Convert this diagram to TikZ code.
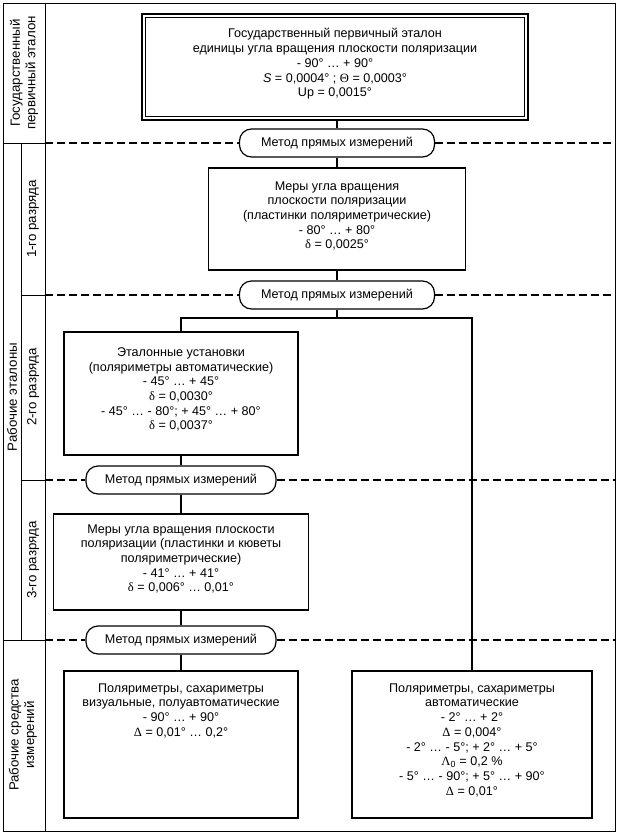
\documentclass[tikz,border=0pt]{standalone}
\usepackage{fontspec}
\setmainfont{Liberation Sans}
\newfontfamily\symf{Liberation Serif}
\begin{document}
\begin{tikzpicture}[x=1pt,y=-1pt,
  frame/.style={line width=1pt},
  box/.style={draw, line width=1.2pt, inner sep=0pt},
  pill/.style={draw, line width=1.2pt, rounded corners=12pt, minimum height=28pt, fill=white, inner sep=0pt, font=\fontsize{12.6}{14.7}\selectfont},
  txt/.style={align=center, font=\fontsize{12.6}{14.7}\selectfont, inner sep=0pt},
  side/.style={align=center, font=\fontsize{13.3}{15.5}\selectfont, inner sep=0pt, rotate=90},
  conn/.style={line width=1.2pt},
  sep/.style={line width=1.3pt, dash pattern=on 8pt off 4pt}]
\useasboundingbox (0,0) rectangle (619,835);
% frame
\draw[frame] (3,3) rectangle (615,831);
\draw[frame] (45,3) -- (45,831);
\draw[frame] (21,143) -- (21,640);
\draw[frame] (3,143) -- (45,143);
\draw[frame] (21,295) -- (45,295);
\draw[frame] (21,480) -- (45,480);
\draw[frame] (3,640) -- (45,640);
% side labels
\node[side] (l1) at (24,73) {Государственный\\первичный эталон};
\node[side] (l2) at (12,397) {Рабочие эталоны};
\node[side] (l3) at (33,219) {1-го разряда};
\node[side] (l4) at (33,387) {2-го разряда};
\node[side] (l5) at (33,560) {3-го разряда};
\node[side] (l6) at (23,735) {Рабочие средства\\измерений};
% pills
\node[pill, minimum width=195pt] (p1) at (337,143) {Метод прямых измерений};
\node[pill, minimum width=195pt] (p2) at (337,295) {Метод прямых измерений};
\node[pill, minimum width=190pt] (p3) at (181,480) {Метод прямых измерений};
\node[pill, minimum width=190pt] (p4) at (181,640) {Метод прямых измерений};
% separators
\coordinate (s1l) at (45,143); \coordinate (s1r) at (615,143);
\coordinate (s2l) at (45,295); \coordinate (s2r) at (615,295);
\coordinate (s3l) at (45,480); \coordinate (s3r) at (615,480);
\coordinate (s4l) at (45,640); \coordinate (s4r) at (615,640);
\draw[sep] (s1l) -- (p1.west); \draw[sep] (p1.east) -- (s1r);
\draw[sep] (s2l) -- (p2.west); \draw[sep] (p2.east) -- (s2r);
\draw[sep] (s3l) -- (p3.west); \draw[sep] (p3.east) -- (s3r);
\draw[sep] (s4l) -- (p4.west); \draw[sep] (p4.east) -- (s4r);
% boxes
\node[box, line width=1.6pt, minimum width=386pt, minimum height=106pt] (b1) at (335,67) {};
\draw[line width=0.8pt] ([shift={(4pt,-4pt)}]b1.north west) rectangle ([shift={(-4pt,4pt)}]b1.south east);
\node[txt] (b1t) at (335,64) {Государственный первичный эталон\\единицы угла вращения плоскости поляризации\\- 90° … + 90°\\\textit{S} = 0,0004° ; {\symf Θ} = 0,0003°\\Up = 0,0015°};
\node[box, minimum width=257pt, minimum height=102pt] (b2) at (337,219) {};
\node[txt] (b2t) at (337,216) {Меры угла вращения\\плоскости поляризации\\(пластинки поляриметрические)\\- 80° … + 80°\\{\symf δ} = 0,0025°};
\node[box, minimum width=234pt, minimum height=123pt] (b3) at (181,393.5) {};
\node[txt] (b3t) at (181,389.5) {Эталонные установки\\(поляриметры автоматические)\\- 45° … + 45°\\{\symf δ} = 0,0030°\\- 45° … - 80°; + 45° … + 80°\\{\symf δ} = 0,0037°};
\node[box, minimum width=255pt, minimum height=96pt] (b4) at (181,562) {};
\node[txt] (b4t) at (181,559) {Меры угла вращения плоскости\\поляризации (пластинки и кюветы\\поляриметрические)\\- 41° … + 41°\\{\symf δ} = 0,006° … 0,01°};
\node[box, minimum width=234pt, minimum height=147pt] (b5) at (181,744.5) {};
\node[txt, anchor=north] (b5t) at ([yshift=-13pt]b5.north) {Поляриметры, сахариметры\\визуальные, полуавтоматические\\- 90° … + 90°\\{\symf Δ} = 0,01° … 0,2°};
\node[box, minimum width=240pt, minimum height=147pt] (b6) at (472,744.5) {};
\node[txt, anchor=north] (b6t) at ([yshift=-13pt]b6.north) {Поляриметры, сахариметры\\автоматические\\- 2° … + 2°\\{\symf Δ} = 0,004°\\- 2° … - 5°; + 2° … + 5°\\{\symf Λ}\textsubscript{0} = 0,2 \%\\- 5° … - 90°; + 5° … + 90°\\{\symf Δ} = 0,01°};
% connectors
\coordinate (j) at (337,318);
\draw[conn] (b1.south -| p1.north) -- (p1.north);
\draw[conn] (p1.south) -- (b2.north);
\draw[conn] (b2.south) -- (p2.north);
\draw[conn] (p2.south) -- (j);
\draw[conn] (b3.north) |- (j);
\draw[conn] (b6.north) |- (j);
\draw[conn] (b3.south) -- (p3.north);
\draw[conn] (p3.south) -- (b4.north);
\draw[conn] (b4.south) -- (p4.north);
\draw[conn] (p4.south) -- (b5.north);
\end{tikzpicture}
\end{document}
